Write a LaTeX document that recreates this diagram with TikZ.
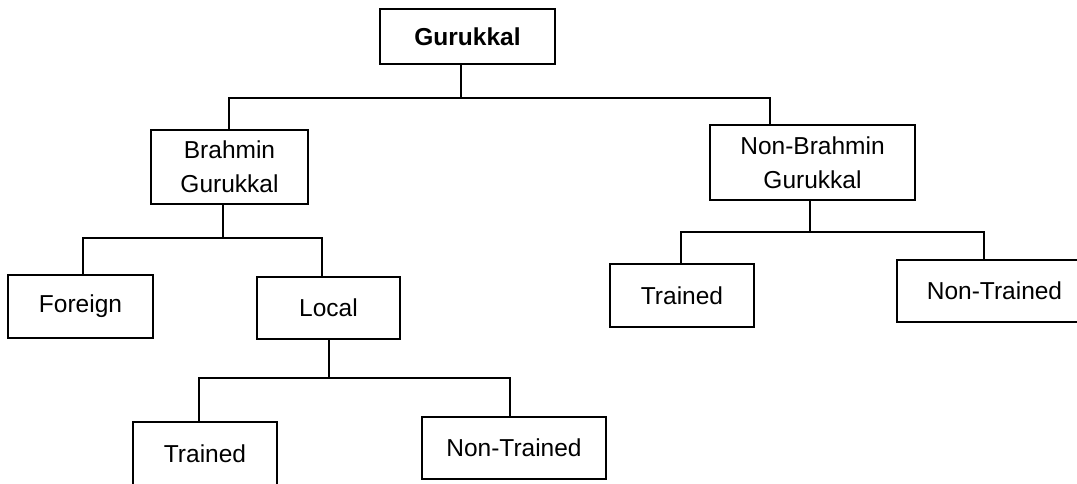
\documentclass[tikz,border=0pt]{standalone}
\usepackage{fontspec}
\setmainfont{Liberation Sans}
\usetikzlibrary{positioning}

\begin{document}
\begin{tikzpicture}[x=1pt, y=-1pt]
	\tikzstyle{box_style}=[rectangle, draw, line width=2pt, align=center, inner sep=0pt, font=\fontsize{24.5}{34}\selectfont]
	\tikzstyle{line_style}=[line width=2pt]
	\useasboundingbox (0,0) rectangle (1077,484);
	% top
	\node at (467.5, 36.5) [box_style, minimum width=175pt, minimum height=55pt, font=\fontsize{24.5}{34}\selectfont\bfseries] (guru) {Gurukkal};
	% second level
	\node at (229.5, 167) [box_style, minimum width=157pt, minimum height=74pt] (brahmin) {Brahmin\\Gurukkal};
	\node at (812.5, 162.5) [box_style, minimum width=205pt, minimum height=75pt] (nonbrahmin) {Non-Brahmin\\Gurukkal};
	% third level
	\node at (80.5, 306.5) [box_style, minimum width=145pt, minimum height=63pt] (foreign) {Foreign};
	\node at (328.5, 308) [box_style, minimum width=143pt, minimum height=62pt] (local) {Local};
	\node at (682, 295.5) [box_style, minimum width=144pt, minimum height=63pt] (trained_r) {Trained};
	\node at (994.5, 291) [box_style, minimum width=195pt, minimum height=62pt] (nontrained_r) {Non-Trained};
	% fourth level
	\node at (205, 453.5) [box_style, minimum width=144pt, minimum height=63pt] (trained_l) {Trained};
	\node at (514, 448) [box_style, minimum width=184pt, minimum height=62pt] (nontrained_l) {Non-Trained};
	% connect: parent -> bar -> children
	\foreach \parent/\jx/\jy/\lchild/\lx/\rchild/\rx in {guru/461/98/brahmin/229/nonbrahmin/770, brahmin/223/238/foreign/83/local/322, nonbrahmin/810/232/trained_r/681/nontrained_r/984, local/329/378/trained_l/199/nontrained_l/510}
	{
		\coordinate (\parent_jn) at (\jx, \jy);
		\coordinate (\parent_bl) at (\lx, \jy);
		\coordinate (\parent_br) at (\rx, \jy);
		\draw[line_style] (\parent_jn |- \parent.south) -- (\parent_jn);
		\draw[line_style] (\parent_bl |- \lchild.north) -- (\parent_bl) -- (\parent_br) -- (\parent_br |- \rchild.north);
	}
\end{tikzpicture}
\end{document}
